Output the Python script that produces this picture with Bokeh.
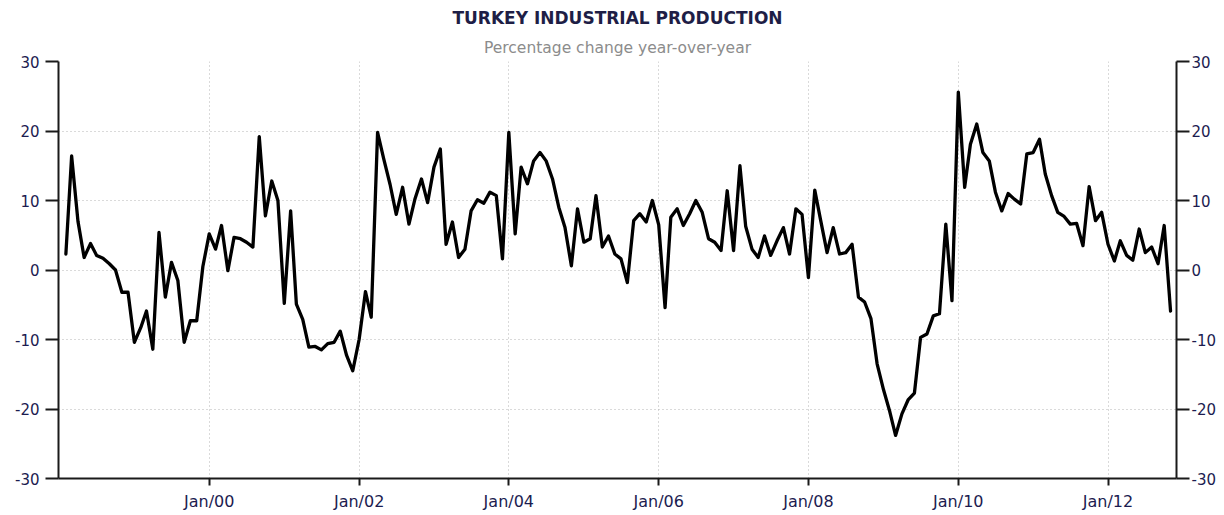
import pandas as pd
from bokeh.plotting import figure
from bokeh.models import Range1d, LinearAxis, FixedTicker, Title, ColumnDataSource
from bokeh.embed import file_html
from bokeh.resources import INLINE

# Turkey industrial production, % change y/y, monthly (Jan 1998 - Oct 2012)
y1998 = [2.3, 16.4, 7.0, 1.8, 3.8, 2.1, 1.7, 0.9, 0.0, -3.2, -3.2, -10.4]
y1999 = [-8.3, -5.9, -11.4, 5.4, -3.9, 1.1, -1.5, -10.4, -7.3, -7.3, 0.5, 5.2]
y2000 = [3.0, 6.4, -0.1, 4.7, 4.5, 4.0, 3.3, 19.2, 7.8, 12.8, 10.0, -4.8]
y2001 = [8.5, -4.9, -7.1, -11.1, -11.0, -11.5, -10.6, -10.4, -8.8, -12.3, -14.5, -10.0]
y2002 = [-3.1, -6.8, 19.8, 16.0, 12.3, 8.0, 11.9, 6.6, 10.3, 13.1, 9.7, 14.8]
y2003 = [17.4, 3.7, 6.9, 1.8, 3.0, 8.5, 10.1, 9.6, 11.2, 10.7, 1.6, 19.8]
y2004 = [5.2, 14.8, 12.4, 15.7, 16.9, 15.7, 13.1, 9.0, 6.1, 0.6, 8.8, 4.0]
y2005 = [4.5, 10.7, 3.3, 4.9, 2.3, 1.6, -1.8, 7.1, 8.1, 6.9, 10.0, 6.5]
y2006 = [-5.4, 7.6, 8.8, 6.4, 8.1, 10.0, 8.3, 4.5, 4.0, 2.8, 11.4, 2.8]
y2007 = [15.0, 6.3, 3.0, 1.8, 4.9, 2.1, 4.2, 6.1, 2.3, 8.8, 8.0, -1.1]
y2008 = [11.5, 7.1, 2.5, 6.1, 2.3, 2.5, 3.7, -3.9, -4.6, -7.0, -13.5, -17.2]
y2009 = [-20.4, -23.8, -20.7, -18.7, -17.7, -9.7, -9.2, -6.6, -6.3, 6.6, -4.4, 25.6]
y2010 = [11.9, 18.1, 21.0, 16.9, 15.7, 11.2, 8.5, 11.0, 10.2, 9.5, 16.7, 16.9]
y2011 = [18.8, 13.8, 10.7, 8.3, 7.7, 6.6, 6.7, 3.5, 12.0, 7.1, 8.3, 3.7]
y2012 = [1.3, 4.2, 2.1, 1.4, 5.9, 2.5, 3.3, 0.9, 6.4, -5.9]

values = (y1998 + y1999 + y2000 + y2001 + y2002 + y2003 + y2004 + y2005 +
          y2006 + y2007 + y2008 + y2009 + y2010 + y2011 + y2012)

# each monthly value is plotted at the end of its month (start of next month)
dates = pd.date_range("1998-02-01", periods=len(values), freq="MS")

tick_years = [2000, 2002, 2004, 2006, 2008, 2010, 2012]
tick_labels = ["Jan/00", "Jan/02", "Jan/04", "Jan/06", "Jan/08", "Jan/10", "Jan/12"]
y_ticks = [-30, -20, -10, 0, 10, 20, 30]
y_tick_labels = ["-30", "-20", "-10", "0", "10", "20", "30"]

title_text = "TURKEY INDUSTRIAL PRODUCTION"
subtitle_text = "Percentage change year-over-year"

tick_ms = [int(pd.Timestamp(f"{y}-01-01").value // 10**6) for y in tick_years]

src = ColumnDataSource(dict(x=dates, y=values))

p = figure(width=1224, height=515, x_axis_type="datetime",
           output_backend="svg", toolbar_location=None, title=None,
           x_range=Range1d(pd.Timestamp("1997-12-27"), pd.Timestamp("2012-11-30")),
           y_range=Range1d(-30, 30),
           min_border_left=58, min_border_right=48, min_border_bottom=37,
           min_border_top=61)
p.outline_line_color = None
p.background_fill_color = "white"
p.border_fill_color = "white"

sub = Title(text=subtitle_text, align="center", text_font="DejaVu Sans",
            text_font_size="15.5px", text_font_style="normal",
            text_color="#8c8c8c", standoff=9)
main = Title(text=title_text, align="center", text_font="DejaVu Sans",
             text_font_size="17px", text_font_style="bold",
             text_color="#1e1e46", standoff=10)
p.add_layout(sub, "above")
p.add_layout(main, "above")

p.line("x", "y", source=src, line_color="black", line_width=3.3,
       line_join="round", line_cap="round")

yt = FixedTicker(ticks=y_ticks)
xt = FixedTicker(ticks=tick_ms)
p.xaxis.ticker = xt
p.yaxis.ticker = yt
p.xgrid.ticker = xt
p.ygrid.ticker = yt
p.xaxis.major_label_overrides = {ms: lab for ms, lab in zip(tick_ms, tick_labels)}
y_over = {t: lab for t, lab in zip(y_ticks, y_tick_labels)}
p.yaxis.major_label_overrides = y_over

right = LinearAxis(ticker=yt, major_label_overrides=y_over)
p.add_layout(right, "right")

for g in (p.xgrid, p.ygrid):
    g.grid_line_color = "#b4b4b4"
    g.grid_line_dash = "1 3"
    g.grid_line_width = 1

for ax in (p.xaxis[0], p.yaxis[0], right):
    ax.axis_line_color = "#1a1a1a"
    ax.axis_line_width = 2
    ax.major_tick_line_color = "#1a1a1a"
    ax.major_tick_line_width = 2
    ax.major_tick_in = 0
    ax.minor_tick_line_color = None
    ax.major_label_text_font = "DejaVu Sans"
    ax.major_label_text_font_size = "15px"
    ax.major_label_text_color = "#1c1c50"

p.xaxis.major_label_text_font_size = "16px"
p.xaxis.major_tick_out = 7
p.xaxis.major_label_standoff = 6
p.yaxis.major_tick_out = 13
p.yaxis.major_label_standoff = 6
right.major_tick_out = 13
right.major_label_standoff = 2

open("out.html", "w").write(file_html(p, INLINE))
